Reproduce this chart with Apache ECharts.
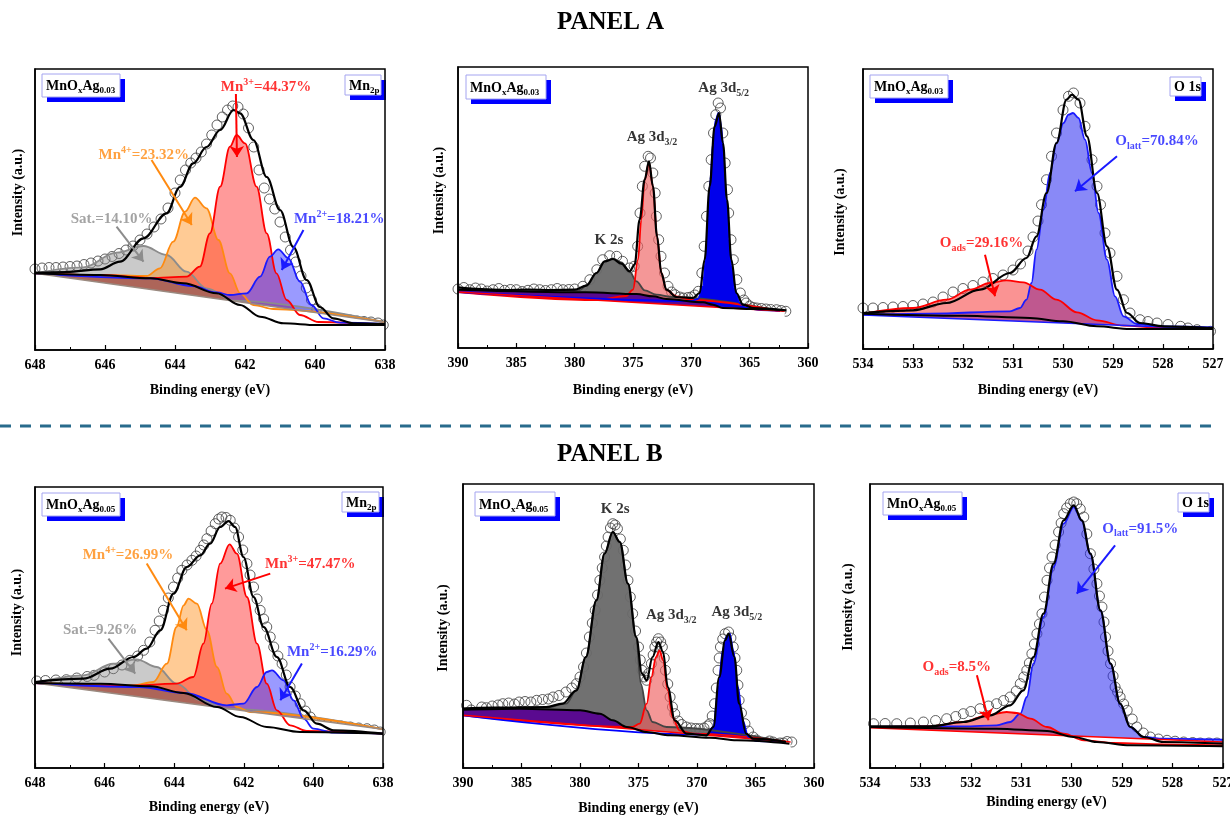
<!DOCTYPE html>
<html><head><meta charset="utf-8">
<script src="https://cdn.jsdelivr.net/npm/echarts@6/dist/echarts.min.js"></script>
<style>html,body{margin:0;padding:0;background:#fff}#c{width:1230px;height:816px}</style>
</head><body><div id="c"></div>
<script>
// ================= DATA (binding energy eV, intensity a.u.) =================
// ---- Panel A : MnOxAg0.03 ----
const a1Raw = [[648.0,81],[647.8,82],[647.6,82.5],[647.4,82.5],[647.2,83],[647.0,83.5],[646.8,84],[646.6,85.5],[646.4,87],[646.2,89],[646.0,91],[645.8,93.5],[645.6,96.5],[645.4,100],[645.2,104],[645.0,110],[644.8,116],[644.6,123],[644.4,131],[644.2,142],[644.0,157],[643.85,170],[643.7,180],[643.55,187],[643.4,192],[643.25,198],[643.1,206],[642.95,215],[642.8,225],[642.65,233],[642.5,240],[642.35,244],[642.2,243],[642.05,236],[641.9,222],[641.75,203],[641.6,180],[641.45,162],[641.3,151],[641.15,141],[641.0,128],[640.85,113],[640.7,100],[640.55,88],[640.4,74],[640.25,62],[640.1,50],[639.95,41],[639.8,36],[639.6,33],[639.4,32],[639.2,31],[639.0,30],[638.8,29],[638.6,28.5],[638.4,28],[638.2,27],[638.05,25]];
const a1Fit = [[648,77.3],[647.1,78],[646.14,80.7],[645.57,88.3],[644.9,111.7],[644.24,136.7],[643.86,163],[643.48,186.7],[643.1,203],[642.71,220],[642.33,240],[642.14,236.7],[641.76,210],[641.38,173],[641.0,140],[640.62,103],[640.24,70],[639.86,43],[639.48,31.7],[638.9,26.7],[638,26]];
const a1Bg = [[648,76.7],[646.14,75],[644.7,71.7],[643.76,66.7],[642.81,56.7],[642.14,45],[641.57,33.3],[640.9,26.7],[639.95,25],[638,25]];
const a1Lin = [[648,76.7],[638,27.7]];
const a1Sat = [[648,76.7],[646.62,82.7],[645.67,97.3],[644.9,104],[644.24,95],[643.67,78.3],[643.1,61.7],[642.33,49.3],[638,27.7]];
const a1Mn4 = [[648,76.7],[646.14,75],[644.81,74],[644.43,81.7],[644.05,108.3],[643.71,138.3],[643.43,152.3],[643.1,141.7],[642.76,110],[642.43,76.7],[642.14,56.7],[641.76,45],[641.19,41],[638,27.7]];
const a1Mn3 = [[648,76.7],[646.14,75],[644.7,72],[643.67,73.3],[643.29,83.3],[643.0,116.7],[642.71,163.3],[642.43,203.3],[642.24,215],[642.0,206.7],[641.67,163.3],[641.38,116.7],[641.1,76.7],[640.81,50],[640.43,35],[639.9,28],[638,25]];
const a1Mn2 = [[648,76.7],[644.7,71.7],[643.5,64],[642.8,57.5],[642.43,55],[641.95,56.7],[641.57,73.3],[641.29,93.3],[641.05,100.7],[640.76,91.7],[640.43,68.3],[640.1,45],[639.76,31.7],[639.29,27.3],[638,26]];

const a2Raw = [[390,59],[389.5,60.5],[389,58.3],[388.5,60],[388,59],[387.5,57],[387,58.3],[386.5,59.5],[386,57.7],[385.5,58.5],[385,58.3],[384.5,56.5],[384,57.7],[383.5,59],[383,58.3],[382.5,57.5],[382,58.3],[381.5,59.5],[381,58.3],[380.5,58.5],[380,59],[379.3,61.7],[378.7,68.3],[378.1,78.3],[377.6,88.3],[377.0,92.3],[376.4,91.7],[375.9,86.7],[375.3,80],[374.9,81.7],[374.6,101.7],[374.4,135],[374.2,161.7],[374.0,181.7],[373.7,191.7],[373.5,190],[373.3,175],[373.1,155],[373.0,131.7],[372.8,108.3],[372.6,91.7],[372.3,75],[372.0,61.7],[371.7,56],[371.4,53.3],[371.0,51],[370.7,50],[370.3,50.5],[370.0,51],[369.7,53],[369.4,56.7],[369.1,75],[368.9,101.7],[368.7,131.7],[368.5,161.7],[368.3,188.3],[368.1,215],[367.9,233.3],[367.7,245],[367.5,240],[367.3,215],[367.1,185],[366.9,158.3],[366.8,135],[366.6,108.3],[366.4,88.3],[366.1,68.3],[365.8,55],[365.5,48],[365.3,45],[365.0,42],[364.7,40.5],[364.4,40],[364.0,39.5],[363.6,39],[363.2,38.5],[362.7,38.3],[362.3,37.5],[361.9,36.7]];
const a2Fit = [[390,60.7],[388,59],[386,58],[384,58.5],[382,58],[380,58.3],[379.0,62.3],[378.14,75],[377.43,86.7],[376.71,89],[376.0,84.3],[375.29,76.7],[374.86,83.3],[374.43,128.3],[374.0,168.3],[373.63,186.7],[373.29,161.7],[372.94,111.7],[372.57,75],[372.14,58.3],[371.29,51],[369.86,50],[369.29,55],[368.86,88.3],[368.43,161.7],[368.0,221.7],[367.63,235],[367.29,205],[366.94,148.3],[366.57,88.3],[366.14,55],[365.57,43.3],[364.71,40],[361.86,37.7]];
const a2Bg = [[390,58.3],[379.0,55.7],[374.7,54],[373.29,51.7],[372.14,49],[369.0,45.7],[368.14,43.3],[367.29,40],[364.71,39],[362.14,37.7]];
const a2Lin = [[390,56],[362,36.7]];
const a2K2s = [[390,58.5],[385,58],[380,57.7],[379.6,57.7],[378.9,63.3],[378.1,75],[377.4,86.7],[376.7,89.3],[376.0,85.7],[375.3,76.7],[374.7,66.7],[374.0,57.7],[373.0,53.3],[371.6,51],[362.4,37]];
const a2Ag32 = [[390,56],[378,48],[375.6,52],[375.0,58.3],[374.57,88.3],[374.29,128.3],[374.0,168.3],[373.63,185],[373.29,161.7],[372.94,111.7],[372.57,75],[372.14,58.3],[371.29,51.7],[370,48],[362.4,37]];
const a2Ag52 = [[390,56],[370,47],[369.43,49],[369.0,61.7],[368.77,88.3],[368.57,128.3],[368.37,168.3],[368.14,205],[367.91,228.3],[367.66,235],[367.43,221.7],[367.23,188.3],[367.0,148.3],[366.77,108.3],[366.57,81.7],[366.29,58.3],[365.86,45],[365.29,40],[364,38],[362.4,37]];

const a3Raw = [[534.0,41],[533.8,41],[533.6,41.5],[533.4,42],[533.2,42.5],[533.0,43.5],[532.8,45],[532.6,47],[532.4,52],[532.2,57],[532.0,60.5],[531.8,63.5],[531.6,67],[531.4,70.5],[531.2,74],[531.0,79],[530.85,85],[530.7,98],[530.6,112],[530.5,128],[530.43,144.3],[530.33,169.3],[530.23,192.7],[530.13,216],[530.0,239],[529.89,252.7],[529.79,256],[529.66,246],[529.56,222.7],[529.42,189.3],[529.32,162.7],[529.25,144.3],[529.16,116],[529.06,96],[528.92,72.7],[528.79,49.3],[528.66,36],[528.46,29.3],[528.3,27.5],[528.12,26],[527.9,24.5],[527.65,22.7],[527.5,21],[527.32,19.3],[527.05,17.7]];
const a3Fit = [[534,36],[533.0,38.7],[532.33,46],[531.66,59.3],[531.06,76],[530.73,91],[530.53,112.7],[530.33,156],[530.13,206],[529.93,249.3],[529.82,254.3],[529.69,249.3],[529.52,212.7],[529.32,156],[529.12,102.7],[528.92,59.3],[528.72,36],[528.46,26],[527.99,22.7],[527,21]];
const a3Bg = [[534,35.3],[532.0,33.3],[530.66,31],[530.0,27.7],[529.32,22.7],[528.66,20],[527,20]];
const a3Lin = [[534,34],[527,20]];
const a3Olatt = [[534,34.3],[532.66,35.3],[531.06,37.7],[530.86,41],[530.73,49.3],[530.63,66],[530.53,99.3],[530.39,139.3],[530.26,176],[530.13,206],[529.99,226],[529.89,234.3],[529.8,236],[529.69,231],[529.56,209.3],[529.42,176],[529.29,136],[529.12,89.3],[528.96,52.7],[528.79,32.7],[528.52,25],[527.99,22.7],[527,21.7]];
const a3Oads = [[534,35.3],[533.0,41],[532.33,49.3],[531.86,59.3],[531.46,66],[531.13,68.7],[530.79,66.7],[530.46,59.3],[530.13,49.3],[529.72,36.7],[529.32,28.7],[528.79,23.3],[527.99,21],[527,20]];

// ---- Panel B : MnOxAg0.05 ----
const b1Raw = [[647.95,87],[647.7,87.5],[647.4,88],[647.1,88.3],[646.8,90],[646.5,91.5],[646.3,92.7],[646.0,96],[645.75,99.3],[645.5,103],[645.27,107.7],[645.05,112],[644.88,117.7],[644.7,126],[644.55,137.7],[644.43,147],[644.31,157.7],[644.17,170],[644.02,181],[643.9,190],[643.78,197.7],[643.63,203],[643.49,207.7],[643.37,212],[643.25,217.7],[643.15,223],[643.06,229.3],[642.94,237],[642.82,244.3],[642.72,249],[642.63,251],[642.51,250.5],[642.39,247.7],[642.27,240],[642.15,231],[642.03,218],[641.91,204.3],[641.82,193],[641.72,181],[641.62,169],[641.53,157.7],[641.43,149],[641.34,141],[641.24,131],[641.14,121],[641.02,112],[640.9,104.3],[640.78,93],[640.67,81],[640.52,72],[640.38,64.3],[640.23,57],[640.09,51],[639.95,46],[639.8,44.3],[639.6,43.5],[639.42,42.7],[639.2,42],[638.94,41],[638.7,40],[638.46,39.3],[638.25,38],[638.08,36]];
const b1Fit = [[648,86],[646.61,89.3],[645.84,99.3],[645.17,111],[644.79,119.3],[644.4,137.7],[644.02,174.3],[643.64,201],[643.25,212.7],[642.97,224.3],[642.68,241],[642.44,247],[642.25,241],[642.01,211],[641.72,171],[641.43,141],[641.05,111],[640.67,81],[640.28,57.7],[639.9,44.3],[639.42,37.7],[638,34.3]];
const b1Bg = [[648,85],[646.13,84.3],[644.69,81.7],[643.73,75],[642.77,61],[642.1,51],[641.34,41],[640.38,36],[638,34.3]];
const b1Lin = [[648,85],[638,38.7]];
const b1Sat = [[648,85],[646.61,92.7],[645.75,104.3],[645.08,108.7],[644.5,101],[643.93,84.3],[643.25,67.7],[642.49,59.3],[638,38.7]];
const b1Mn4 = [[648,85],[645.17,82.7],[644.6,86],[644.21,104.3],[643.93,141],[643.73,162.7],[643.59,169.3],[643.35,164.3],[643.06,137.7],[642.77,101],[642.49,74.3],[642.2,61],[641.82,56],[638,38.7]];
const b1Mn3 = [[648,85],[645.5,82],[643.93,84.3],[643.45,91],[643.16,124.3],[642.92,164.3],[642.68,204.3],[642.41,223.7],[642.2,214.3],[641.91,171],[641.62,124.3],[641.34,84.3],[641.05,57.7],[640.67,42.7],[640.19,37],[638,34.3]];
const b1Mn2 = [[648,85],[645,81],[643.7,75],[642.49,62.7],[642.01,64.3],[641.62,81],[641.34,96],[641.19,97.7],[640.86,87.7],[640.57,67.7],[640.28,49.3],[640.0,39.3],[639.42,35.3],[638,34.3]];

const b2Raw = [[389.7,62.7],[389.3,58],[389.1,51],[388.8,55],[388.4,61],[388.0,60.3],[387.5,62],[387.0,63],[386.6,64.3],[386.1,65],[385.6,64],[385.2,66],[384.7,66.5],[384.2,66],[383.7,67.7],[383.2,68.5],[382.7,69],[382.3,71],[381.8,72.5],[381.2,76],[380.7,80],[380.3,84.3],[380.0,91],[379.7,101],[379.45,115],[379.2,131],[378.95,145],[378.7,157.7],[378.5,173],[378.3,187.7],[378.1,200],[377.9,211],[377.75,222],[377.6,231],[377.4,240],[377.2,244.3],[377.0,243],[376.8,239.3],[376.55,229],[376.3,217.7],[376.1,203],[375.9,187.7],[375.7,171],[375.5,154.3],[375.25,137],[375.0,121],[374.85,108],[374.7,97.7],[374.5,91],[374.3,87.7],[374.1,95],[373.9,104.3],[373.75,113],[373.6,121],[373.45,126],[373.3,129.3],[373.1,126],[372.96,121],[372.8,110],[372.7,97.7],[372.5,84],[372.3,71],[372.1,61],[371.9,54.3],[371.6,47],[371.3,43.5],[370.9,41],[370.5,40],[370.1,39.5],[369.8,39.3],[369.4,40],[369.1,42],[368.9,44.3],[368.7,52],[368.5,64.3],[368.35,80],[368.2,97.7],[368.1,110],[368.0,121],[367.8,129],[367.6,134.3],[367.3,136],[367.1,130],[366.9,121],[366.75,110],[366.6,97.7],[366.5,83],[366.4,67.7],[366.2,55],[365.9,44.3],[365.6,37],[365.2,31],[364.9,28],[364.6,25],[364.4,24.3],[364.1,25.5],[363.8,27],[363.5,26],[363.2,24],[362.9,25],[362.6,25],[362.3,26.5],[361.9,26]];
const b2Fit = [[390,59.3],[387.4,60.3],[382.9,61],[381.5,64.3],[380.3,77.7],[379.5,111],[378.6,167.7],[377.9,214.3],[377.2,236],[376.6,226],[375.9,184.3],[375.2,131],[374.7,94.3],[374.3,87.7],[373.8,111],[373.3,126],[372.9,116],[372.5,81],[371.9,47.7],[370.9,34.3],[369.2,32.7],[368.6,41],[368.1,91],[367.6,127.7],[367.3,134.3],[366.8,111],[366.4,64.3],[365.8,34.3],[365.2,29.3],[362.4,26]];
const b2Bg = [[390,58.3],[385.2,59.3],[380.0,57.7],[378.3,54.3],[377.2,47.7],[376.0,41],[374.3,36],[372.3,32.7],[368.9,30.3],[366.6,27.7],[362.1,24.3]];
const b2Lin = [[390,52.7],[362,25.9]];
const b2K2s = [[390,59.3],[382.9,60.3],[381.2,64.3],[380.3,77.7],[379.5,111],[378.6,167.7],[377.9,214.3],[377.2,236],[376.6,226],[375.9,184.3],[375.2,131],[374.8,84.3],[374.3,57.7],[373.8,46],[372.6,41],[362.4,26.3]];
const b2Ag32 = [[390,52.7],[375.5,41],[374.9,44.3],[374.3,64.3],[373.9,91],[373.5,111],[373.2,117.7],[372.9,107.7],[372.5,77.7],[372.1,51],[371.5,37.7],[370.3,34.3],[362.4,26.3]];
const b2Ag52 = [[390,52.7],[369.9,33.5],[369.2,32.7],[368.6,41],[368.2,77.7],[367.8,117.7],[367.5,131],[367.2,134.3],[366.9,117.7],[366.5,81],[366.1,47.7],[365.6,31],[364.9,27],[362.5,25.5]];

const b3Raw = [[533.93,44.3],[533.7,44.5],[533.47,44.3],[533.2,45],[532.94,46],[532.7,47.5],[532.48,49.3],[532.3,51.5],[532.15,54.3],[532.0,56.5],[531.82,59.3],[531.65,62],[531.49,64.3],[531.35,67.5],[531.22,71],[531.1,77],[531.02,84.3],[530.95,91],[530.89,97.7],[530.84,105],[530.79,114.3],[530.74,124],[530.69,134.3],[530.64,144],[530.59,154.3],[530.54,171],[530.49,187.7],[530.44,200],[530.39,211],[530.33,223],[530.26,236],[530.21,245],[530.16,254.3],[530.1,260],[530.03,264.3],[529.96,266],[529.9,264.3],[529.83,259],[529.76,251],[529.7,234],[529.63,214.3],[529.56,199],[529.5,184.3],[529.45,172],[529.4,161],[529.36,146],[529.33,131],[529.28,117],[529.23,104.3],[529.18,92],[529.14,81],[529.09,76],[529.04,71],[528.97,64],[528.9,57.7],[528.8,49],[528.71,41],[528.58,35],[528.44,31],[528.28,29],[528.11,27.7],[527.95,26.8],[527.78,26],[527.6,25.5],[527.45,25],[527.28,25],[527.12,25]];
const b3Fit = [[534,41.7],[532.81,41.7],[532.15,46],[531.62,52.7],[531.22,62.7],[530.96,77.7],[530.76,111],[530.56,154.3],[530.36,204.3],[530.16,247.7],[529.96,262.7],[529.8,247.7],[529.63,214.3],[529.43,157.7],[529.23,104.3],[529.04,64.3],[528.84,41],[528.57,31],[528.18,26],[527,24.3]];
const b3Bg = [[534,41],[531.49,39.3],[530.49,37],[529.96,31],[529.5,26],[528.84,22.7],[527,21.7]];
const b3Lin = [[534,40.3],[527,26]];
const b3Olatt = [[534,41],[532.15,41.7],[531.49,42.7],[531.22,46],[531.02,54.3],[530.89,71],[530.76,104.3],[530.56,151],[530.36,201],[530.16,244.3],[529.96,261],[529.8,247.7],[529.63,214.3],[529.43,157.7],[529.23,104.3],[529.04,64.3],[528.84,41],[528.57,31],[528.18,29.3],[527,28.3]];
const b3Oads = [[534,41],[532.81,41.7],[532.15,46],[531.68,52.7],[531.29,56],[531.09,55],[530.82,49.3],[530.49,41],[530.16,34.3],[529.76,27.7],[529.17,25],[528.18,23.7],[527,22.7]];

// axis ranges / tick intervals
const mnRange = [638, 648, 2];
const agRange = [360, 390, 5];
const oRange  = [527, 534, 1];
const xName = 'Binding energy (eV)';
const yName = 'Intensity (a.u.)';

// ================= STYLE / LAYOUT =================
const FONT = '"Liberation Serif","Times New Roman",serif';
const RED = '#ff0000', ORANGE = '#ff8a10', GRAY = '#8c8c8c', BLUE = '#1a1aff', BLACK = '#000';

function rich(color, size) {
  const sm = Math.round(size * 0.66);
  return {
    m: {color, fontFamily: FONT, fontWeight: 'bold', fontSize: size, lineHeight: size + 5},
    p: {color, fontFamily: FONT, fontWeight: 'bold', fontSize: sm, lineHeight: 9, verticalAlign: 'top'},
    b: {color, fontFamily: FONT, fontWeight: 'bold', fontSize: sm, lineHeight: 7, verticalAlign: 'bottom'}
  };
}

const panels = [
  { grid: {left: 35, top: 69, width: 350, height: 281}, range: mnRange, ymax: 281, xGap: 33, yGap: 10, yShift: 17,
    comps: [{d: a1Sat, fill: 'rgba(128,128,128,0.42)', line: GRAY}, {d: a1Mn4, fill: 'rgba(255,140,20,0.45)', line: ORANGE},
            {d: a1Mn3, fill: 'rgba(255,30,30,0.45)', line: RED}, {d: a1Mn2, fill: 'rgba(30,30,255,0.45)', line: BLUE}],
    bg: a1Bg, bgFill: '#ad6559', lin: a1Lin, linColor: '#9a8a80', fit: a1Fit, raw: a1Raw,
    notes: [
      {at: [641.4, 263], t: '{m|Mn}{p|3+}{m|=44.37%}', c: RED, arrow: [[642.26, 256], [642.23, 193]]},
      {at: [644.89, 195], t: '{m|Mn}{p|4+}{m|=23.32%}', c: ORANGE, arrow: [[644.67, 190], [643.52, 125]]},
      {at: [645.81, 130.5], t: '{m|Sat.=14.10%}', c: GRAY, arrow: [[645.67, 123.3], [644.9, 88.3]]},
      {at: [639.31, 130.5], t: '{m|Mn}{p|2+}{m|=18.21%}', c: BLUE, arrow: [[640.33, 120], [640.95, 80]]}
    ]},
  { grid: {left: 458, top: 67, width: 350, height: 281}, range: agRange, ymax: 281, xGap: 35, yGap: 12, yShift: 17,
    comps: [{d: a2K2s, fill: 'rgba(105,105,105,0.95)', line: '#444'}, {d: a2Ag32, fill: 'rgba(238,95,95,0.65)', line: RED},
            {d: a2Ag52, fill: 'rgba(0,0,235,1)', line: '#0000ff'}],
    bg: a2Bg, bgFill: '#5a0a90', lin: a2Lin, linColor: RED, fit: a2Fit, raw: a2Raw,
    notes: [
      {at: [377.06, 108.3], t: '{m|K 2s}', c: BLACK},
      {at: [373.37, 211], t: '{m|Ag 3d}{b|3/2}', c: BLACK},
      {at: [367.23, 260], t: '{m|Ag 3d}{b|5/2}', c: BLACK}
    ]},
  { grid: {left: 863, top: 69, width: 350, height: 280}, range: oRange, ymax: 280, xGap: 34, yGap: 16, yShift: -3,
    comps: [{d: a3Olatt, fill: 'rgba(40,40,240,0.55)', line: BLUE}, {d: a3Oads, fill: 'rgba(245,40,40,0.5)', line: RED}],
    bg: a3Bg, bgFill: null, lin: a3Lin, linColor: BLUE, fit: a3Fit, raw: a3Raw,
    notes: [
      {at: [528.12, 207.7], t: '{m|O}{b|latt}{m|=70.84%}', c: BLUE, arrow: [[528.92, 192.7], [529.76, 157.7]]},
      {at: [531.63, 106], t: '{m|O}{b|ads}{m|=29.16%}', c: RED, arrow: [[531.56, 94.3], [531.36, 52.7]]}
    ]},
  { grid: {left: 35, top: 487, width: 348, height: 281}, range: mnRange, ymax: 281, xGap: 32, yGap: 11, yShift: 15,
    comps: [{d: b1Sat, fill: 'rgba(128,128,128,0.42)', line: GRAY}, {d: b1Mn4, fill: 'rgba(255,140,20,0.45)', line: ORANGE},
            {d: b1Mn3, fill: 'rgba(255,30,30,0.45)', line: RED}, {d: b1Mn2, fill: 'rgba(30,30,255,0.45)', line: BLUE}],
    bg: b1Bg, bgFill: '#ad6559', lin: b1Lin, linColor: '#9a8a80', fit: b1Fit, raw: b1Raw,
    notes: [
      {at: [645.33, 212.7], t: '{m|Mn}{p|4+}{m|=26.99%}', c: ORANGE, arrow: [[644.79, 204.4], [643.64, 137.7]]},
      {at: [640.09, 203.7], t: '{m|Mn}{p|3+}{m|=47.47%}', c: RED, arrow: [[641.24, 194.4], [642.54, 179.4]]},
      {at: [646.13, 137.5], t: '{m|Sat.=9.26%}', c: GRAY, arrow: [[645.89, 129.4], [645.12, 94.4]]},
      {at: [639.46, 116], t: '{m|Mn}{p|2+}{m|=16.29%}', c: BLUE, arrow: [[640.33, 104.4], [640.95, 67.7]]}
    ]},
  { grid: {left: 463, top: 484, width: 351, height: 284}, range: agRange, ymax: 284, xGap: 33, yGap: 13, yShift: -2,
    comps: [{d: b2K2s, fill: 'rgba(105,105,105,0.95)', line: '#444'}, {d: b2Ag32, fill: 'rgba(238,95,95,0.65)', line: RED},
            {d: b2Ag52, fill: 'rgba(0,0,235,1)', line: '#0000ff'}],
    bg: b2Bg, bgFill: '#5a0a90', lin: b2Lin, linColor: RED, fit: b2Fit, raw: b2Raw,
    notes: [
      {at: [377.0, 259.3], t: '{m|K 2s}', c: BLACK},
      {at: [372.2, 152.7], t: '{m|Ag 3d}{b|3/2}', c: BLACK},
      {at: [366.6, 156], t: '{m|Ag 3d}{b|5/2}', c: BLACK}
    ]},
  { grid: {left: 870, top: 484, width: 353, height: 284}, range: oRange, ymax: 284, xGap: 27, yGap: 15, yShift: 19,
    comps: [{d: b3Olatt, fill: 'rgba(40,40,240,0.55)', line: BLUE}, {d: b3Oads, fill: 'rgba(245,40,40,0.5)', line: RED}],
    bg: b3Bg, bgFill: null, lin: b3Lin, linColor: RED, fit: b3Fit, raw: b3Raw,
    notes: [
      {at: [528.64, 239.3], t: '{m|O}{b|latt}{m|=91.5%}', c: BLUE, arrow: [[529.14, 222.7], [529.9, 174.3]]},
      {at: [532.28, 101], t: '{m|O}{b|ads}{m|=8.5%}', c: RED, arrow: [[531.88, 92.7], [531.65, 47.7]]}
    ]}
];

const grids = [], xAxes = [], yAxes = [], series = [];
const nameStyle = {fontFamily: FONT, fontWeight: 'bold', fontSize: 14, color: '#000'};

panels.forEach((p, gi) => {
  grids.push(Object.assign({show: true, z: 10, borderColor: '#000', borderWidth: 1.5, backgroundColor: 'rgba(0,0,0,0)', containLabel: false, outerBoundsMode: 'none'}, p.grid));
  xAxes.push({gridIndex: gi, type: 'value', min: p.range[0], max: p.range[1], interval: p.range[2], inverse: true, z: 10,
    axisLine: {show: true, onZero: false, lineStyle: {color: '#000', width: 1.5}},
    axisTick: {show: true, inside: true, length: 5, lineStyle: {color: '#000', width: 1.2}},
    minorTick: {show: true, splitNumber: 2, length: 3, lineStyle: {color: '#000', width: 1}},
    splitLine: {show: false},
    axisLabel: {fontFamily: FONT, fontWeight: 'bold', fontSize: 14, color: '#000', margin: 8, hideOverlap: false},
    name: xName, nameLocation: 'middle', nameGap: p.xGap, nameTextStyle: nameStyle});
  const s = p.yShift;
  yAxes.push({gridIndex: gi, type: 'value', min: 0, max: p.ymax, z: 10,
    axisLine: {show: true, onZero: false, lineStyle: {color: '#000', width: 1.5}},
    axisTick: {show: false}, axisLabel: {show: false}, splitLine: {show: false},
    name: yName, nameLocation: 'middle', nameRotate: 90, nameGap: p.yGap,
    nameTextStyle: Object.assign({}, nameStyle, {padding: s >= 0 ? [0, 0, 0, 2 * s] : [0, -2 * s, 0, 0]})});

  const base = {type: 'line', xAxisIndex: gi, yAxisIndex: gi, showSymbol: false, symbol: 'none', smooth: 0.35,
    smoothMonotone: 'x', silent: true, animation: false};
  p.comps.forEach(c => series.push(Object.assign({}, base, {data: c.d, lineStyle: {width: 0, opacity: 0},
    areaStyle: {color: c.fill, opacity: 1, origin: 'start'}})));
  if (p.bgFill) series.push(Object.assign({}, base, {data: p.bg, lineStyle: {width: 0, opacity: 0},
    areaStyle: {color: p.bgFill, opacity: 1, origin: 'start'}}));
  series.push(Object.assign({}, base, {smooth: false, data: p.lin, lineStyle: {width: 0, opacity: 0},
    areaStyle: {color: '#ffffff', opacity: 1, origin: 'start'}}));
  p.comps.forEach(c => series.push(Object.assign({}, base, {data: c.d, lineStyle: {color: c.line, width: 1.8}})));
  series.push(Object.assign({}, base, {smooth: false, data: p.lin, lineStyle: {color: p.linColor, width: 1.5}}));
  series.push(Object.assign({}, base, {data: p.bg, lineStyle: {color: '#000', width: 2}}));
  series.push(Object.assign({}, base, {data: p.fit, lineStyle: {color: '#000', width: 2.2}}));
  series.push({type: 'scatter', xAxisIndex: gi, yAxisIndex: gi, data: p.raw, symbol: 'circle', symbolSize: 10,
    itemStyle: {color: 'rgba(0,0,0,0)', borderColor: '#3a3a3a', borderWidth: 1}, clip: false, silent: true, animation: false});
  series.push({type: 'scatter', xAxisIndex: gi, yAxisIndex: gi, symbolSize: 1, itemStyle: {color: 'rgba(0,0,0,0)'},
    clip: false, silent: true, animation: false,
    data: p.notes.map(n => ({value: n.at, label: {show: true, position: 'inside', formatter: n.t, rich: rich(n.c, 15)}})),
    markLine: {silent: true, animation: false, symbol: ['none', 'arrow'], symbolSize: 11, label: {show: false},
      lineStyle: {width: 2, type: 'solid'},
      data: p.notes.filter(n => n.arrow).map(n => [{coord: n.arrow[0], lineStyle: {color: n.c, width: 2, type: 'solid'}, itemStyle: {color: n.c}}, {coord: n.arrow[1]}])}});
});

// sample / region tag boxes (white box, light border, hard blue shadow)
const boxRich = {
  m: {fontFamily: FONT, fontWeight: 'bold', fontSize: 14, fill: '#000', lineHeight: 18},
  b: {fontFamily: FONT, fontWeight: 'bold', fontSize: 9, fill: '#000', lineHeight: 7, verticalAlign: 'bottom'}
};
function box(text, x, y, w, h) {
  return {type: 'group', x, y, silent: true, z: 20, children: [
    {type: 'rect', shape: {x: 5, y: 5, width: w, height: h}, style: {fill: '#0000ff'}},
    {type: 'rect', shape: {x: 0, y: 0, width: w, height: h}, style: {fill: '#fff', stroke: '#a4a4f0', lineWidth: 1}},
    {type: 'text', x: 4, y: h / 2 + 1, style: {text, rich: boxRich, align: 'left', verticalAlign: 'middle'}}
  ]};
}
const s003 = '{m|MnO}{b|x}{m|Ag}{b|0.03}', s005 = '{m|MnO}{b|x}{m|Ag}{b|0.05}', sMn = '{m|Mn}{b|2p}', sO = '{m|O 1s}';
const headStyle = {fontFamily: FONT, fontWeight: 'bold', fontSize: 25, color: '#000'};

const option = {
  backgroundColor: '#fff',
  animation: false,
  title: [
    {text: 'PANEL A', left: 557, top: 10, padding: 0, textStyle: headStyle},
    {text: 'PANEL B', left: 557, top: 442, padding: 0, textStyle: headStyle}
  ],
  graphic: [
    {type: 'line', silent: true, shape: {x1: 0, y1: 426, x2: 1212, y2: 426},
      style: {stroke: '#286b8c', lineWidth: 3, lineDash: [11, 9]}},
    box(s003, 42, 74, 78, 23), box(sMn, 345, 75, 36, 20),
    box(s003, 466, 75, 80, 24),
    box(s003, 870, 75, 78, 23), box(sO, 1170, 77, 31, 19),
    box(s005, 42, 493, 78, 23), box(sMn, 342, 492, 37, 20),
    box(s005, 475, 492, 80, 24),
    box(s005, 883, 492, 79, 23), box(sO, 1178, 493, 31, 19)
  ],
  grid: grids, xAxis: xAxes, yAxis: yAxes, series
};
echarts.init(document.getElementById('c'), null, {renderer: 'canvas'}).setOption(option);
</script></body></html>
